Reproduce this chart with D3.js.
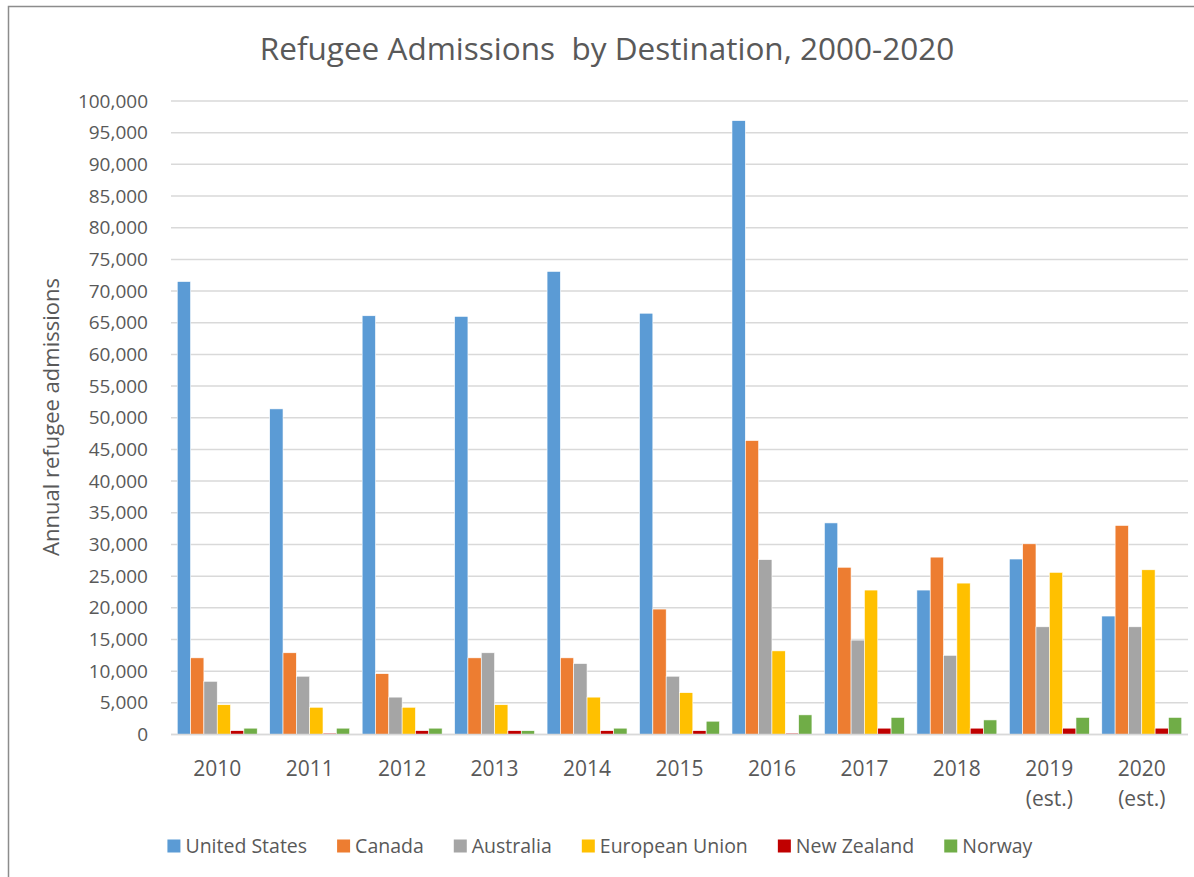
<!DOCTYPE html>
<html>
<head>
<meta charset="utf-8">
<script src="https://cdn.jsdelivr.net/npm/d3@7"></script>
<style>
  body { margin: 0; background: #fff; }
  svg text { font-family: "Open Sans", sans-serif; fill: #595959; }
</style>
</head>
<body>
<script>
// data
var years = ["2010", "2011", "2012", "2013", "2014", "2015", "2016", "2017", "2018", "2019\n(est.)", "2020\n(est.)"];
var countries = ["United States", "Canada", "Australia", "European Union", "New Zealand", "Norway"];
var colors = ["#5B9BD5", "#ED7D31", "#A5A5A5", "#FFC000", "#C00000", "#70AD47"];

var unitedStates = [71500, 51400, 66100, 66000, 73100, 66500, 96900, 33400, 22800, 27700, 18700];
var canada = [12100, 12900, 9600, 12100, 12100, 19800, 46400, 26400, 28000, 30100, 33000];
var australia = [8400, 9200, 5900, 12900, 11200, 9200, 27600, 14900, 12500, 17000, 17000];
var europeanUnion = [4700, 4300, 4300, 4700, 5900, 6600, 13200, 22800, 23900, 25600, 26000];
var newZealand = [600, 200, 600, 600, 600, 600, 200, 1000, 1000, 1000, 1000];
var norway = [1000, 1000, 1000, 600, 1000, 2100, 3100, 2700, 2300, 2700, 2700];

var series = [unitedStates, canada, australia, europeanUnion, newZealand, norway];
var yTicks = d3.range(0, 100001, 5000);

var W = 1194, H = 877;
var plotLeft = 171, plotRight = 1188, plotTop = 101, plotBottom = 734.5;

var svg = d3.select("body").append("svg")
	.attr("width", W)
	.attr("height", H);

// chart frame
svg.append("path")
	.attr("d", "M8.5," + H + "V6.5H" + W)
	.attr("fill", "none")
	.attr("stroke", "#8c8c8c")
	.attr("stroke-width", 1.5);

var x = d3.scaleBand()
	.domain(years)
	.range([plotLeft, plotRight])
	.paddingInner(0.135)
	.paddingOuter(0.0675);

var x1 = d3.scaleBand()
	.domain(countries)
	.range([0, x.bandwidth()]);

var y = d3.scaleLinear()
	.domain([0, 100000])
	.range([plotBottom, plotTop]);

// gridlines
svg.append("g")
	.selectAll("line")
	.data(yTicks)
	.enter().append("line")
	.attr("x1", plotLeft)
	.attr("x2", plotRight)
	.attr("y1", function(d) { return y(d); })
	.attr("y2", function(d) { return y(d); })
	.attr("stroke", "#d9d9d9")
	.attr("stroke-width", 1.5);

// y axis labels
var yAxis = svg.append("g")
	.attr("transform", "translate(" + (plotLeft - 10) + ",0)")
	.call(d3.axisLeft(y).tickValues(yTicks).tickSize(0).tickPadding(13).tickFormat(d3.format(",")));
yAxis.select(".domain").remove();
yAxis.selectAll("text")
	.attr("fill", "#595959")
	.style("font-size", "19px")
	.style("font-family", "'Open Sans', sans-serif");

// bars
var groups = svg.append("g")
	.selectAll("g")
	.data(years)
	.enter().append("g")
	.attr("transform", function(d) { return "translate(" + x(d) + ",0)"; });

groups.selectAll("rect")
	.data(function(d, i) {
		return countries.map(function(c, j) {
			return { country: c, value: series[j][i], color: colors[j] };
		});
	})
	.enter().append("rect")
	.attr("x", function(d) { return x1(d.country); })
	.attr("width", x1.bandwidth())
	.attr("y", function(d) { return y(d.value); })
	.attr("height", function(d) { return y(0) - y(d.value); })
	.attr("fill", function(d) { return d.color; })
	.attr("stroke", "#fff")
	.attr("stroke-width", 0.6);

// baseline
svg.append("line")
	.attr("x1", plotLeft).attr("x2", plotRight)
	.attr("y1", y(0)).attr("y2", y(0))
	.attr("stroke", "#d9d9d9")
	.attr("stroke-width", 1.5);

// x labels
var xLabels = svg.append("g")
	.selectAll("text")
	.data(years)
	.enter().append("text")
	.attr("text-anchor", "middle")
	.attr("x", function(d) { return x(d) + x.bandwidth() / 2; })
	.attr("y", 776)
	.style("font-size", "21px");

xLabels.selectAll("tspan")
	.data(function(d) { return d.split("\n"); })
	.enter().append("tspan")
	.attr("x", function() { return d3.select(this.parentNode).attr("x"); })
	.attr("dy", function(d, i) { return i ? 30 : 0; })
	.text(function(d) { return d; });

// title
svg.append("text")
	.attr("x", 607)
	.attr("y", 60)
	.attr("text-anchor", "middle")
	.style("font-size", "31.5px")
	.attr("xml:space", "preserve")
	.style("white-space", "pre")
	.text("Refugee Admissions  by Destination, 2000-2020");

// y axis title
svg.append("text")
	.attr("transform", "translate(59,417) rotate(-90)")
	.attr("text-anchor", "middle")
	.style("font-size", "22px")
	.text("Annual refugee admissions");

// legend
var legend = svg.append("g");
var items = legend.selectAll("g")
	.data(countries)
	.enter().append("g");

items.append("rect")
	.attr("width", 13)
	.attr("height", 13)
	.attr("y", -6.5)
	.attr("fill", function(d, i) { return colors[i]; });

items.append("text")
	.attr("x", 18)
	.attr("dy", "0.35em")
	.style("font-size", "19.5px")
	.text(function(d) { return d; });

var pos = 0;
items.each(function() {
	var w = this.getBBox().width;
	d3.select(this).attr("transform", "translate(" + pos + ",0)");
	pos += w + 30;
});
pos -= 30;
legend.attr("transform", "translate(" + (600 - pos / 2) + ",846)");
</script>
</body>
</html>
